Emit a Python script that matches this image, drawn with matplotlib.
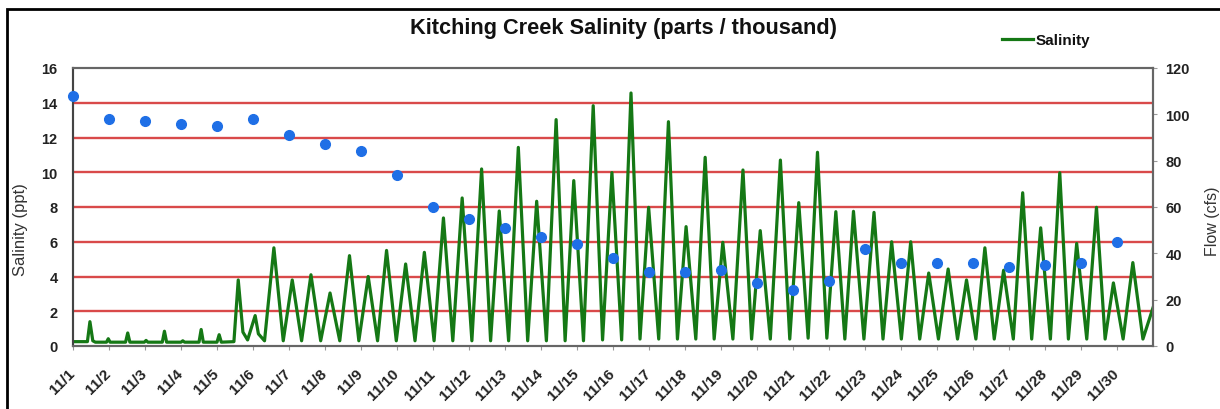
import matplotlib
matplotlib.use("Agg")
import matplotlib.pyplot as plt
from matplotlib.patches import Rectangle
from matplotlib.lines import Line2D
import matplotlib.transforms as mtransforms

plt.rcParams['font.family'] = ['Liberation Sans', 'DejaVu Sans']

# ---- data ----
# Salinity trace: time (days since 11/1 00:00) and value (ppt)
sal_day = [0.00, 0.40, 0.47, 0.55, 0.62,
           0.93, 0.98, 1.03,
           1.46, 1.52, 1.58,
           1.98, 2.03, 2.08,
           2.48, 2.54, 2.60,
           3.00, 3.05, 3.10,
           3.50, 3.56, 3.62,
           4.00, 4.06, 4.12,
           4.47, 4.59, 4.72, 4.85,
           5.06, 5.15, 5.32,
           5.58, 5.84, 6.09, 6.35, 6.61, 6.88, 7.14, 7.41, 7.68, 7.94,
           8.20, 8.46, 8.71, 8.98, 9.24, 9.50, 9.76, 10.03, 10.29, 10.55,
           10.81, 11.08, 11.35, 11.60, 11.84, 12.10, 12.37, 12.63, 12.88, 13.15,
           13.42, 13.67, 13.91, 14.18, 14.45, 14.71, 14.97, 15.24, 15.50, 15.75,
           15.99, 16.27, 16.54, 16.79, 17.03, 17.30, 17.56, 17.81, 18.05, 18.33,
           18.61, 18.85, 19.09, 19.37, 19.65, 19.91, 20.16, 20.42, 20.68, 20.94,
           21.19, 21.44, 21.68, 21.97, 22.25, 22.50, 22.74, 23.01, 23.27, 23.52,
           23.77, 24.04, 24.31, 24.57, 24.82, 25.08, 25.33, 25.59, 25.85, 26.12,
           26.38, 26.63, 26.88, 27.15, 27.41, 27.65, 27.88, 28.16, 28.43, 28.67,
           28.90, 29.17, 29.44, 29.72, 30.00]
sal_ppt = [0.25, 0.25, 1.40, 0.30, 0.22,
           0.22, 0.42, 0.22,
           0.22, 0.75, 0.22,
           0.22, 0.32, 0.22,
           0.22, 0.85, 0.22,
           0.22, 0.30, 0.22,
           0.22, 0.95, 0.22,
           0.22, 0.65, 0.22,
           0.25, 3.80, 0.80, 0.35,
           1.75, 0.70, 0.30,
           5.65, 0.30, 3.80, 0.30, 4.10, 0.30, 3.05, 0.30, 5.20, 0.30,
           4.00, 0.30, 5.50, 0.30, 4.72, 0.30, 5.39, 0.30, 7.37, 0.30,
           8.52, 0.30, 10.19, 0.30, 7.77, 0.30, 11.43, 0.30, 8.33, 0.30,
           13.03, 0.30, 9.52, 0.30, 13.83, 0.35, 9.98, 0.35, 14.56, 0.40,
           7.98, 0.40, 12.91, 0.40, 6.87, 0.40, 10.86, 0.40, 5.97, 0.40,
           10.13, 0.40, 6.64, 0.40, 10.70, 0.40, 8.25, 0.45, 11.15, 0.45,
           7.73, 0.40, 7.75, 0.40, 7.69, 0.40, 6.00, 0.40, 6.00, 0.40,
           4.20, 0.40, 4.43, 0.40, 3.80, 0.40, 5.65, 0.40, 4.36, 0.40,
           8.82, 0.40, 6.80, 0.40, 9.97, 0.40, 5.90, 0.40, 7.98, 0.40,
           3.63, 0.40, 4.80, 0.40, 2.20]

# Daily flow (cfs), plotted at each day's tick
flow_day = list(range(30))
flow_cfs = [108, 98, 97, 96, 95, 98, 91, 87, 84, 74,
            60, 55, 51, 47, 44, 38, 32, 32, 33, 27,
            24, 28, 42, 36, 36, 36, 34, 35, 36, 45]

tick_labels = [f"11/{d}" for d in range(1, 31)]
sal_ticks = [0, 2, 4, 6, 8, 10, 12, 14, 16]
flow_ticks = [0, 20, 40, 60, 80, 100, 120]

W, H = 1220, 410

# ---- figure ----
fig = plt.figure(figsize=(12.2, 4.1), dpi=100)
ax = fig.add_axes([73/W, 1-347/H, (1153-73)/W, (347-69)/H])
ax2 = ax.twinx()

# gridlines
for v in sal_ticks[1:-1]:
    ax.axhline(v, color='#d94a4a', lw=1.7, zorder=1)

ax.plot(sal_day, sal_ppt, color='#157815', lw=2.3, zorder=3,
        solid_joinstyle='round')
ax2.plot(flow_day, flow_cfs, 'o', color='#1f6fe6', ms=7, zorder=4, clip_on=False)

ax.set_xlim(0, 30)
ax.set_ylim(0, 16)
ax2.set_ylim(0, 120)

ax.set_xticks(range(30))
ax.set_xticklabels(tick_labels, rotation=45, ha='right', va='center',
                   rotation_mode='anchor', fontsize=11, fontweight='bold',
                   color='#222222')
offset = mtransforms.ScaledTranslation(-13/100, 0, fig.dpi_scale_trans)
for lbl in ax.get_xticklabels():
    lbl.set_transform(lbl.get_transform() + offset)

ax.set_yticks(sal_ticks)
ax.set_yticklabels([str(t) for t in sal_ticks], fontsize=10.5, fontweight='bold',
                   color='#222222')
ax2.set_yticks(flow_ticks)
ax2.set_yticklabels([str(t) for t in flow_ticks], fontsize=10.5, fontweight='bold',
                    color='#222222')

ax.tick_params(axis='x', length=3, color='#999999', pad=15)
ax.tick_params(axis='y', length=0, pad=11)
ax2.tick_params(axis='y', length=3, color='#999999', pad=6)

for a in (ax, ax2):
    for sp in ['left', 'top', 'right', 'bottom']:
        a.spines[sp].set_color('#666666')
        a.spines[sp].set_linewidth(1.5)
ax2.spines['left'].set_color('#444444')

fig.text(21/W, 1-230/H, 'Salinity (ppt)', rotation=90, fontsize=12,
         color='#333333', ha='center', va='center')
fig.text(1213/W, 1-221/H, 'Flow (cfs)', rotation=90, fontsize=11.5,
         color='#333333', ha='center', va='center')

fig.text(624/W, 1-34/H, 'Kitching Creek Salinity (parts / thousand)',
         fontsize=15.7, fontweight='bold', ha='center', va='baseline', color='#111111')

# legend
fig.add_artist(Line2D([1002/W, 1033/W], [1-40/H, 1-40/H], color='#157815', lw=2.3,
                      transform=fig.transFigure))
fig.text(1036/W, 1-41/H, 'Salinity', fontsize=11, fontweight='bold',
         ha='left', va='center', color='#111111')

# outer border
fig.patches.append(Rectangle((7/W, -0.05), 1.2, 1 - 10/H + 0.05,
                             transform=fig.transFigure, fill=False,
                             edgecolor='black', lw=2.0, zorder=0))

fig.savefig('out.png', dpi=100)
